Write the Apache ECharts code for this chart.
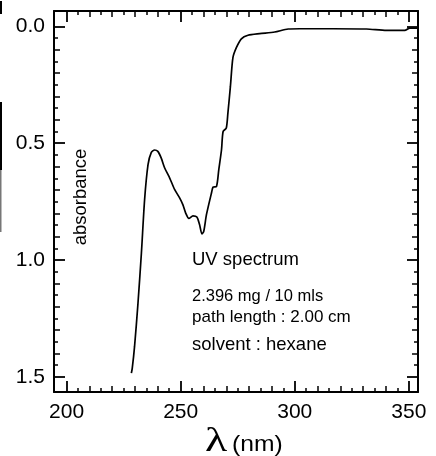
<!DOCTYPE html>
<html>
<head>
<meta charset="utf-8">
<script src="https://cdn.jsdelivr.net/npm/echarts@6/dist/echarts.min.js"></script>
<style>
  html, body { margin: 0; padding: 0; background: #fff; }
  #chart { width: 436px; height: 456px; }
</style>
</head>
<body>
<div id="chart"></div>
<script>
// Absorbance spectrum (wavelength in nm, absorbance)
const wavelength = [
  228.4, 228.8, 229.8, 231.3, 232.8, 234.2, 235.7, 237.1, 238.6, 240.0,
  241.5, 243.0, 245.2, 247.4, 249.6, 251.0, 252.2, 253.6, 255.4, 257.1,
  258.3, 259.3, 260.1, 261.3, 263.5, 264.2, 265.7, 266.7, 267.9, 268.6,
  270.0, 270.7, 271.8, 272.9, 274.4, 276.6, 279.5, 284.6, 291.2, 297.1,
  302.2, 316.8, 331.4, 340.2, 348.2, 350.4, 353.9
];
const absorbance = [
  1.484, 1.463, 1.370, 1.185, 0.970, 0.742, 0.592, 0.540, 0.529, 0.535,
  0.564, 0.606, 0.649, 0.699, 0.735, 0.764, 0.799, 0.822, 0.811, 0.816,
  0.849, 0.888, 0.878, 0.806, 0.713, 0.688, 0.685, 0.614, 0.528, 0.450,
  0.435, 0.371, 0.257, 0.134, 0.091, 0.053, 0.038, 0.031, 0.024, 0.011,
  0.010, 0.010, 0.011, 0.017, 0.017, 0.007, 0.007
];

// Labelled tick values
const xMajor = [200, 250, 300, 350];
const yMajor = [0.0, 0.5, 1.0, 1.5];

// Sample notes written inside the frame
const notes = ['UV spectrum', '2.396 mg / 10 mls', 'path length : 2.00 cm', 'solvent : hexane'];
const yAxisTitle = 'absorbance';
const xAxisSymbol = '\u03bb';
const xAxisUnit = '(nm)';

const X_MIN = 194.5, X_MAX = 354, Y_MIN = -0.066, Y_MAX = 1.565;
const FONT = '"Liberation Sans", Arial, Helvetica, sans-serif';

// Intermediate ticks: every 10 nm / 0.1 (medium), every 5 nm / 0.05 (short)
const xMid = [], xSmall = [], yMid = [], ySmall = [];
for (let v = 210; v < 350; v += 10) if (v % 50 !== 0) xMid.push(v);
for (let v = 205; v < 350; v += 10) xSmall.push(v);
for (let i = 1; i < 15; i++) if (i % 5 !== 0) yMid.push(i / 10);
for (let i = 0; i < 15; i++) ySmall.push((2 * i + 1) / 20);

function xAxisCfg(position, ticks, len, major) {
  return {
    type: 'value', position: position, min: X_MIN, max: X_MAX,
    axisLine: { show: major, onZero: false, lineStyle: { color: '#000', width: 2 } },
    axisTick: { show: true, inside: true, length: len, customValues: ticks,
                lineStyle: { color: '#000', width: major ? 1.8 : 1.5 } },
    axisLabel: { show: major && position === 'bottom', customValues: ticks, margin: 10,
                 color: '#000', fontSize: 21, fontFamily: FONT,
                 formatter: v => String(Math.round(v)) },
    splitLine: { show: false }
  };
}
function yAxisCfg(position, ticks, len, major) {
  return {
    type: 'value', position: position, inverse: true, min: Y_MIN, max: Y_MAX,
    axisLine: { show: major, onZero: false, lineStyle: { color: '#000', width: 2 } },
    axisTick: { show: true, inside: true, length: len, customValues: ticks,
                lineStyle: { color: '#000', width: major ? 1.8 : 1.5 } },
    axisLabel: { show: major && position === 'left', customValues: ticks, margin: 9,
                 color: '#000', fontSize: 21, fontFamily: FONT,
                 formatter: v => v.toFixed(1) },
    splitLine: { show: false }
  };
}

const chart = echarts.init(document.getElementById('chart'), null, { renderer: 'canvas' });
chart.setOption({
  animation: false,
  backgroundColor: '#fff',
  grid: { left: 54, right: 18, top: 11, bottom: 64, containLabel: false },
  xAxis: [
    xAxisCfg('bottom', xMajor, 11, true),
    xAxisCfg('bottom', xMid, 6, false),
    xAxisCfg('bottom', xSmall, 4, false),
    xAxisCfg('top', xMajor, 11, true),
    xAxisCfg('top', xMid, 6, false),
    xAxisCfg('top', xSmall, 4, false)
  ],
  yAxis: [
    yAxisCfg('left', yMajor, 11, true),
    yAxisCfg('left', yMid, 6, false),
    yAxisCfg('left', ySmall, 4, false),
    yAxisCfg('right', yMajor, 11, true),
    yAxisCfg('right', yMid, 6, false),
    yAxisCfg('right', ySmall, 4, false)
  ],
  series: [{
    type: 'line',
    xAxisIndex: 0, yAxisIndex: 0,
    data: wavelength.map((w, i) => [w, absorbance[i]]),
    showSymbol: false,
    smooth: 0.25,
    clip: true,
    lineStyle: { color: '#000', width: 1.7 }
  }],
  graphic: [
    { type: 'text', x: 80.5, y: 197, rotation: Math.PI / 2,
      style: { text: yAxisTitle, font: '18.5px ' + FONT, fill: '#000', align: 'center', verticalAlign: 'middle' } },
    { type: 'text', x: 192, y: 259.5,
      style: { text: notes[0], font: '18.5px ' + FONT, fill: '#000', align: 'left', verticalAlign: 'middle' } },
    { type: 'text', x: 192, y: 296,
      style: { text: notes[1], font: '16.5px ' + FONT, fill: '#000', align: 'left', verticalAlign: 'middle' } },
    { type: 'text', x: 192, y: 317,
      style: { text: notes[2], font: '17px ' + FONT, fill: '#000', align: 'left', verticalAlign: 'middle' } },
    { type: 'text', x: 192, y: 344.5,
      style: { text: notes[3], font: '18.5px ' + FONT, fill: '#000', align: 'left', verticalAlign: 'middle' } },
    { type: 'text', x: 205, y: 442, scaleX: 1.35,
      style: { text: xAxisSymbol, font: '34px "Liberation Serif", "Times New Roman", serif', fill: '#000', align: 'left', verticalAlign: 'middle' } },
    { type: 'text', x: 232, y: 445, scaleX: 1.12,
      style: { text: xAxisUnit, font: '22px ' + FONT, fill: '#000', align: 'left', verticalAlign: 'middle' } },
    // thin rule along the left page edge
    { type: 'rect', shape: { x: 0, y: 102, width: 2, height: 68 }, style: { fill: '#000' } },
    { type: 'rect', shape: { x: 0, y: 170, width: 1.5, height: 62 }, style: { fill: '#777' } },
    { type: 'rect', shape: { x: 0, y: 1, width: 2, height: 13 }, style: { fill: '#000' } }
  ]
});
</script>
</body>
</html>
